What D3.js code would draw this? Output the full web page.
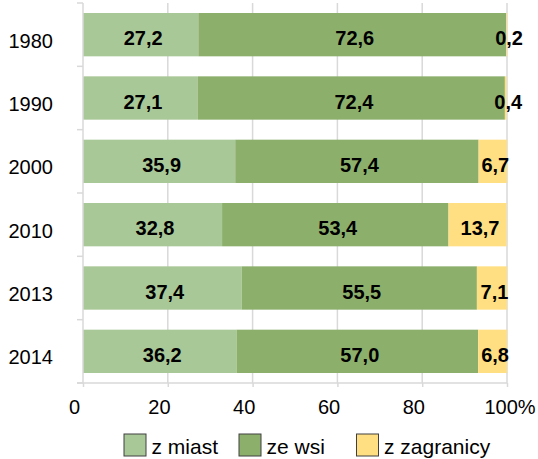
<!DOCTYPE html>
<html>
<head>
<meta charset="utf-8">
<script src="https://cdn.jsdelivr.net/npm/d3@7"></script>
<style>
  body { margin: 0; background: #fff; }
  svg { display: block; font-family: "Liberation Sans", Arial, sans-serif; }
</style>
</head>
<body>
<svg id="chart" width="538" height="459"></svg>
<script>
// data
let years = ["1980", "1990", "2000", "2010", "2013", "2014"];
let zMiast = [27.2, 27.1, 35.9, 32.8, 37.4, 36.2];
let zeWsi = [72.6, 72.4, 57.4, 53.4, 55.5, 57.0];
let zZagranicy = [0.2, 0.4, 6.7, 13.7, 7.1, 6.8];
let seriesNames = ["z miast", "ze wsi", "z zagranicy"];
let xTicks = [0, 20, 40, 60, 80, 100];

let colors = ["#a9c898", "#8cb06c", "#ffdf82"];
let gridColor = "#d9d9d9";

let svg = d3.select("#chart");

let x = d3.scaleLinear().domain([0, 100]).range([83, 507]);
let y = d3.scaleBand().domain(years).range([3, 383])
    .paddingInner(0.316).paddingOuter(0.158);

// build rows for stacking
let rows = years.map(function (d, i) {
    return { year: d, "z miast": zMiast[i], "ze wsi": zeWsi[i], "z zagranicy": zZagranicy[i] };
});
let stacked = d3.stack().keys(seriesNames)(rows);

// vertical gridlines
svg.append("g")
    .selectAll("line")
    .data(xTicks.slice(1))
    .enter()
    .append("line")
    .attr("x1", function (d) { return x(d); })
    .attr("x2", function (d) { return x(d); })
    .attr("y1", 3)
    .attr("y2", 383)
    .attr("stroke", gridColor)
    .attr("stroke-width", 1.5);

// bars
let layers = svg.append("g")
    .selectAll("g")
    .data(stacked)
    .enter()
    .append("g")
    .attr("fill", function (d, i) { return colors[i]; });

layers.selectAll("rect")
    .data(function (d) { return d; })
    .enter()
    .append("rect")
    .attr("x", function (d) { return x(d[0]); })
    .attr("y", function (d) { return y(d.data.year); })
    .attr("width", function (d) { return x(d[1]) - x(d[0]); })
    .attr("height", y.bandwidth());

// value labels
let fmt = function (v) { return d3.format(".1f")(v).replace(".", ","); };
layers.selectAll("text")
    .data(function (d) { return d; })
    .enter()
    .append("text")
    .attr("x", function (d) { return (x(d[0]) + x(d[1])) / 2 + 2.5; })
    .attr("y", function (d) { return y(d.data.year) + y.bandwidth() / 2 + 10.5; })
    .attr("text-anchor", "middle")
    .attr("fill", "#000")
    .attr("font-weight", "bold")
    .attr("font-size", "20px")
    .text(function (d) { return fmt(d[1] - d[0]); });

// y axis
let yAxis = svg.append("g");
yAxis.append("line")
    .attr("x1", 83).attr("x2", 83)
    .attr("y1", 3).attr("y2", 383)
    .attr("stroke", gridColor).attr("stroke-width", 1.5);
let bounds = years.map(function (d) { return y(d) - y.step() * y.paddingInner() / 2; }).concat([383]);
yAxis.selectAll(".ytick")
    .data(bounds)
    .enter()
    .append("line")
    .attr("class", "ytick")
    .attr("x1", 77).attr("x2", 83)
    .attr("y1", function (d) { return d; })
    .attr("y2", function (d) { return d; })
    .attr("stroke", gridColor).attr("stroke-width", 1.5);
yAxis.selectAll("text")
    .data(years)
    .enter()
    .append("text")
    .attr("x", 53)
    .attr("y", function (d) { return y(d) + y.bandwidth() / 2 + 13; })
    .attr("text-anchor", "end")
    .attr("font-size", "20px")
    .attr("fill", "#000")
    .text(function (d) { return d; });

// x axis
let xAxis = svg.append("g")
    .attr("transform", "translate(0,383)")
    .call(d3.axisBottom(x).tickValues(xTicks).tickSize(4)
        .tickFormat(function (d) { return d === 100 ? d + "%" : d; }));
xAxis.select(".domain").attr("stroke", gridColor).attr("stroke-width", 1.5)
    .attr("d", "M77,0H507");
xAxis.selectAll(".tick line").attr("stroke", gridColor).attr("stroke-width", 1.5);
xAxis.selectAll(".tick text")
    .attr("font-size", "20px")
    .attr("font-family", "\"Liberation Sans\", Arial, sans-serif")
    .attr("fill", "#000")
    .attr("y", 31)
    .attr("dy", 0)
    .attr("dx", function (d) { return d === 100 ? "0em" : "-0.4445em"; })
    .attr("text-anchor", function (d) { return d === 100 ? "start" : "middle"; })
    .attr("x", function (d) { return d === 100 ? -23 : 0; });

// legend
let legendX = [124, 239, 356.5];
let legend = svg.append("g")
    .selectAll("g")
    .data(seriesNames)
    .enter()
    .append("g")
    .attr("transform", function (d, i) { return "translate(" + legendX[i] + ",434)"; });
legend.append("rect")
    .attr("width", 22).attr("height", 22)
    .attr("fill", function (d, i) { return colors[i]; })
    .attr("stroke", "#404040").attr("stroke-width", 1);
legend.append("text")
    .attr("x", 27.5)
    .attr("y", 20)
    .attr("font-size", "21px")
    .attr("fill", "#000")
    .text(function (d) { return d; });
</script>
</body>
</html>
